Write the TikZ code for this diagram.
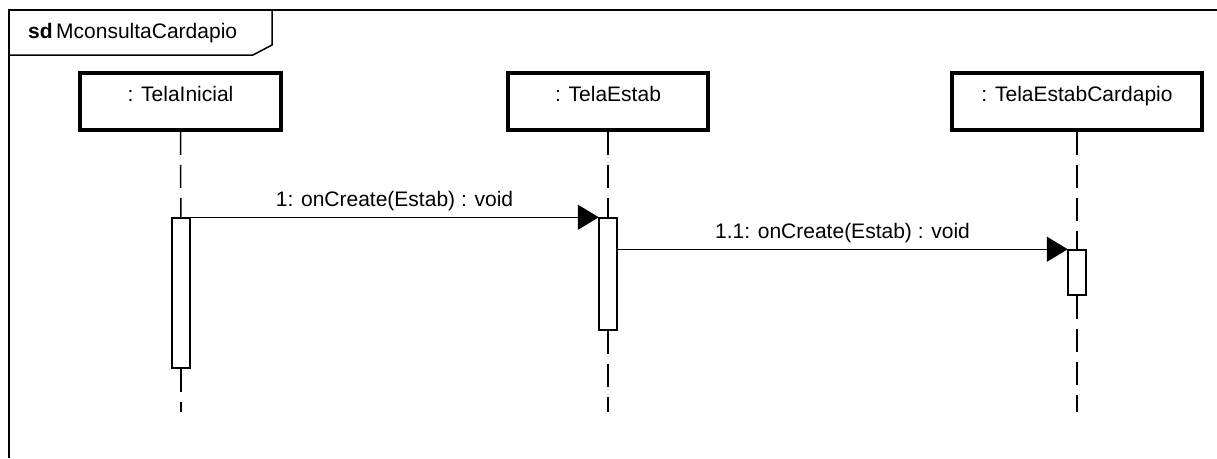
\documentclass[tikz,border=0pt]{standalone}
\usepackage{fontspec}
\setmainfont{Liberation Sans}
\usetikzlibrary{arrows.meta,positioning}

\begin{document}
\begin{tikzpicture}[
    x=1pt, y=-1pt,
    font=\fontsize{21}{25}\selectfont,
    lifebox/.style={rectangle, draw, line width=3.5pt, minimum height=57pt, inner sep=0pt, text height=15pt, text depth=15pt},
    actbar/.style={rectangle, draw, fill=white, line width=1.5pt, minimum width=18pt, inner sep=0pt},
    lifeline/.style={line width=1.5pt, dash pattern=on 23pt off 10pt},
    msg/.style={-{Triangle[length=21pt,width=25pt]}, line width=1.5pt, shorten >=-0.5pt}
]
    \useasboundingbox (0,0) rectangle (1217,458);

    % frame and its name tab
    \draw[line width=2pt] (9,458) -- (9,10) -- (1217,10);
    \draw[line width=1.5pt] (9,55) -- (253,55) -- (272,45) -- (272,10);
    \node[anchor=west, inner sep=0pt] (title) at (28,33) {\textbf{sd}\,MconsultaCardapio};

    % lifeline heads
    \node[lifebox, minimum width=201pt] (ini) at (180.5,101.5) {: TelaInicial};
    \node[lifebox, minimum width=200pt] (estab) at (608,101.5) {: TelaEstab};
    \node[lifebox, minimum width=250pt] (card) at (1077,101.5) {: TelaEstabCardapio};

    % activations
    \node[actbar, minimum height=150pt] (ini-act) at (181,293) {};
    \node[actbar, minimum height=112pt] (estab-act) at (608,274) {};
    \node[actbar, minimum height=45pt] (card-act) at (1077,272.5) {};

    \coordinate (ini-end) at (181,412);
    \coordinate (estab-end) at (608,412);
    \coordinate (card-end) at (1077,412);

    \draw[lifeline] (ini) -- (ini-act);
    \draw[lifeline] (ini-act) -- (ini-end);
    \draw[lifeline] (estab) -- (estab-act);
    \draw[lifeline] (estab-act) -- (estab-end);
    \draw[lifeline] (card) -- (card-act);
    \draw[lifeline] (card-act) -- (card-end);

    % messages
    \draw[msg] (ini-act.north east) -- node[above=2pt] {1: onCreate(Estab) : void} (estab-act.north west);
    \draw[msg] (estab-act.east |- card-act.north) -- node[above=2pt] {1.1: onCreate(Estab) : void} (card-act.north west);
\end{tikzpicture}
\end{document}
